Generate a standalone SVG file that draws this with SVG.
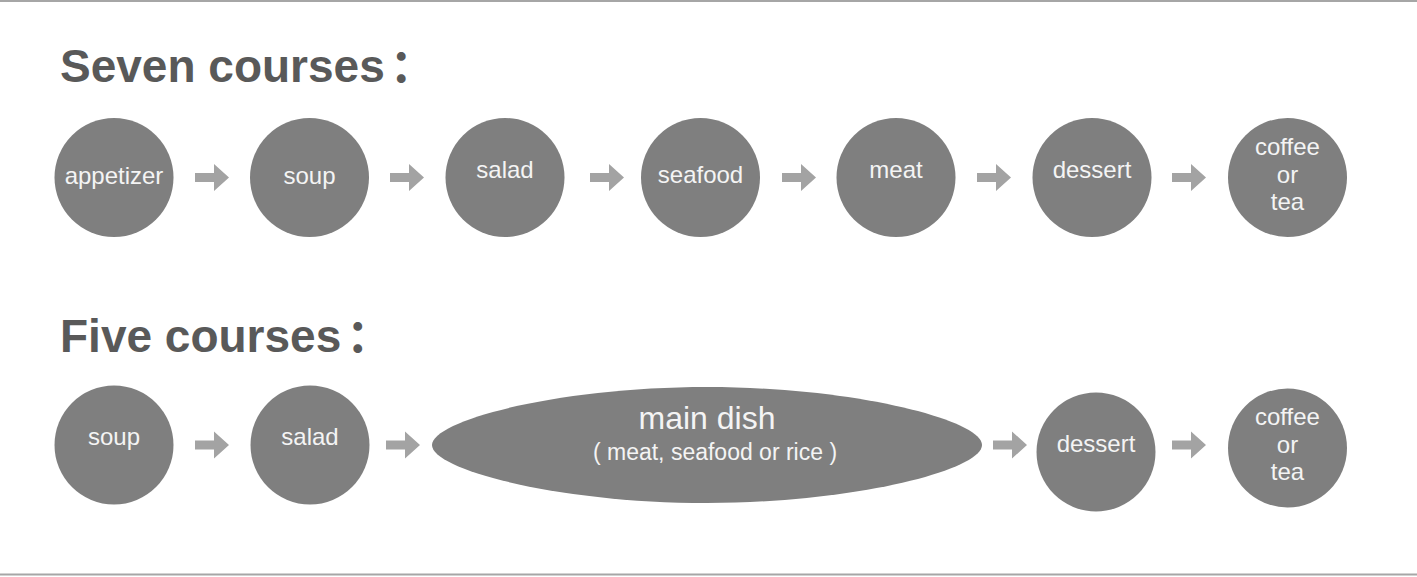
<svg xmlns="http://www.w3.org/2000/svg" width="1417" height="577" viewBox="0 0 1417 577">
<style>
.node{fill:#7f7f7f}
.lbl{font-family:"Liberation Sans",Arial,"Noto Sans CJK SC",sans-serif;font-size:24px;fill:#f4f4f4;text-anchor:middle}
.title{font-family:"Liberation Sans",Arial,"Noto Sans CJK SC",sans-serif;font-size:46px;font-weight:bold;fill:#595959}
.rule{stroke:#a6a6a6;stroke-width:2}
.arrow{fill:#a3a3a3}
</style>
<defs>
<polygon id="arr" points="0,-4.5 19,-4.5 19,-13.5 34,0 19,13.5 19,4.5 0,4.5"/>
</defs>
<rect width="1417" height="577" fill="#ffffff"/>
<line class="rule" x1="0" y1="1" x2="1417" y2="1"/>
<line class="rule" x1="0" y1="574.5" x2="1417" y2="574.5"/>

<text class="title" x="60" y="82">Seven courses<tspan dx="5">：</tspan></text>
<text class="title" x="60" y="352">Five courses<tspan dx="5">：</tspan></text>

<g id="connectors" class="arrow">
<use href="#arr" x="195" y="177.5"/>
<use href="#arr" x="390" y="177.5"/>
<use href="#arr" x="590" y="177.5"/>
<use href="#arr" x="782" y="177.5"/>
<use href="#arr" x="977" y="177.5"/>
<use href="#arr" x="1172" y="177.5"/>
<use href="#arr" x="195" y="445"/>
<use href="#arr" x="386" y="445"/>
<use href="#arr" x="993" y="445"/>
<use href="#arr" x="1172" y="445"/>
</g>

<g id="s7-appetizer"><circle class="node" cx="114" cy="177.5" r="59.5"/><text class="lbl" x="114" y="184">appetizer</text></g>
<g id="s7-soup"><circle class="node" cx="309.5" cy="177.5" r="59.5"/><text class="lbl" x="309.5" y="184">soup</text></g>
<g id="s7-salad"><circle class="node" cx="505" cy="177.5" r="59.5"/><text class="lbl" x="505" y="178">salad</text></g>
<g id="s7-seafood"><circle class="node" cx="700.5" cy="177.5" r="59.5"/><text class="lbl" x="700.5" y="183">seafood</text></g>
<g id="s7-meat"><circle class="node" cx="896" cy="177.5" r="59.5"/><text class="lbl" x="896" y="178">meat</text></g>
<g id="s7-dessert"><circle class="node" cx="1092" cy="177.5" r="59.5"/><text class="lbl" x="1092" y="178">dessert</text></g>
<g id="s7-coffee"><circle class="node" cx="1287.5" cy="177.5" r="59.5"/><text class="lbl" x="1287.5" y="155">coffee</text><text class="lbl" x="1287.5" y="183">or</text><text class="lbl" x="1287.5" y="210">tea</text></g>

<g id="s5-soup"><circle class="node" cx="114" cy="445" r="59.5"/><text class="lbl" x="114" y="445">soup</text></g>
<g id="s5-salad"><circle class="node" cx="310" cy="445" r="59.5"/><text class="lbl" x="310" y="445">salad</text></g>
<g id="s5-main"><path class="node" d="M432,445 C432,420 560,387 707,387 C854,387 982,420 982,445 C982,470 854,503 707,503 C560,503 432,470 432,445 Z"/><text class="lbl" x="707" y="429" style="font-size:32px">main dish</text><text class="lbl" x="715" y="460" style="font-size:23px">( meat, seafood or rice )</text></g>
<g id="s5-dessert"><circle class="node" cx="1096" cy="452" r="59.5"/><text class="lbl" x="1096" y="452">dessert</text></g>
<g id="s5-coffee"><circle class="node" cx="1287.5" cy="448" r="59.5"/><text class="lbl" x="1287.5" y="425">coffee</text><text class="lbl" x="1287.5" y="453">or</text><text class="lbl" x="1287.5" y="480">tea</text></g>
</svg>
